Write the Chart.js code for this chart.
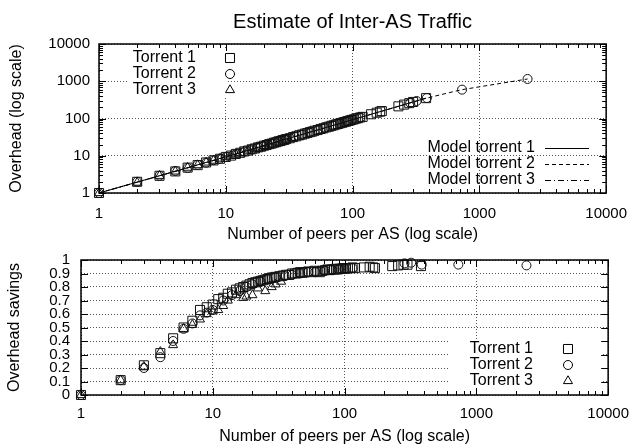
<!DOCTYPE html>
<html>
<head>
<meta charset="utf-8">
<script src="https://cdn.jsdelivr.net/npm/chart.js@4"></script>
<style>
body{margin:0;background:#fff;width:639px;height:445px;position:relative;overflow:hidden}
#c1{position:absolute;left:0;top:0}
#c2{position:absolute;left:0;top:240px}
</style>
</head>
<body>
<canvas id="c1" width="639" height="250"></canvas>
<canvas id="c2" width="639" height="205"></canvas>
<script>
// peers per AS, overhead and savings per torrent
var x1=[1,2,3,4,5,6,7,8,9,10,11,12,13,14,15,16,17,18,19,20,21,22,23,24,25,26,27,28,29,30,32,34,36,38,40,42,44,46,48,50,53,56,59,62,65,68,71,74,77,80,83,86,89,92,95,98,102,106,110,115,120,140,155,165,170,230,255,280,300,380]
var overhead1=[1,2,2.9,3.8,4.8,5.6,6.6,7.5,8.3,9.3,10.1,11.2,12,13.1,13.8,14.9,15.7,16.8,17.5,18.6,19.4,20.5,21.2,22.4,23.1,24.3,24.9,26.2,26.8,28,29.6,31.7,33.3,35.5,37,39.2,40.7,43,44.4,46.8,49,52.3,54.6,57.9,60.1,63.5,65.7,69.1,71.2,74.8,76.8,80.3,82.4,85.9,87.8,91.5,94.4,99,101.8,107,110.5,130,143,153,158,212,236,258,278,352]
var savings1=[0,0.11,0.22,0.31,0.42,0.5,0.55,0.63,0.65,0.67,0.71,0.72,0.75,0.76,0.78,0.79,0.8,0.81,0.82,0.83,0.835,0.84,0.845,0.85,0.855,0.86,0.865,0.87,0.87,0.875,0.88,0.885,0.89,0.89,0.9,0.9,0.905,0.91,0.905,0.91,0.915,0.91,0.92,0.915,0.91,0.92,0.925,0.93,0.925,0.93,0.93,0.935,0.93,0.935,0.935,0.94,0.935,0.94,0.94,0.945,0.94,0.945,0.95,0.945,0.94,0.955,0.96,0.965,0.965,0.955]

var x2=[1,2,3,4,5,6,7,8,9,10,12,14,16,18,20,23,26,30,35,40,46,53,60,70,80,90,100,115,285,320,385,730,2400]
var overhead2=[1,2,2.9,3.9,4.7,5.7,6.5,7.6,8.3,9.2,11,12.9,14.7,16.6,18.4,21.2,24,27.6,32.2,36.8,42.3,48.8,55.2,64.4,73.6,82.8,92,106,262,295,355,595,1150]
var savings2=[0,0.11,0.2,0.28,0.4,0.49,0.53,0.59,0.61,0.63,0.7,0.74,0.77,0.8,0.82,0.84,0.86,0.87,0.88,0.89,0.9,0.91,0.91,0.92,0.925,0.93,0.935,0.94,0.975,0.98,0.966,0.966,0.96]

var x3=[1,2,3,4,5,6,7,8,9,10,11,12,13,15,17,18,20,22,25,28,30,33]
var overhead3=[1,1.9,2.9,3.8,4.8,5.6,6.6,7.4,8.4,9.2,10.1,11,12,13.8,15.6,16.6,18.4,20.2,23,25.8,27.6,30.4]
var savings3=[0,0.11,0.21,0.32,0.37,0.49,0.52,0.56,0.6,0.62,0.63,0.66,0.7,0.74,0.72,0.73,0.74,0.79,0.77,0.8,0.82,0.84]

var modelX1=[1,10,100,380]
var modelY1=[1,9.4,93,352]
var modelX2=[1,10,100,380,720,2400]
var modelY2=[1,9.3,92,350,590,1150]
var modelX3=[1,10,33]
var modelY3=[1,9.2,30.4]

var decades=[1,10,100,1000,10000]
var savingTicks=[0,0.1,0.2,0.3,0.4,0.5,0.6,0.7,0.8,0.9,1]

Chart.defaults.font.family="'Liberation Sans', Arial, sans-serif"
Chart.defaults.color='#000'

function pts(xs,ys){
    return xs.map(function(x,i){return {x:x,y:ys[i]}})
}

function drawSymbol(ctx,style,r,x,y){
    ctx.beginPath()
    if(style==='rect'){
        var s=r*Math.SQRT1_2
        ctx.rect(x-s,y-s,2*s,2*s)
    }else if(style==='circle'){
        ctx.arc(x,y,r,0,Math.PI*2)
    }else if(style==='triangle'){
        var a=0
        ctx.moveTo(x+Math.sin(a)*r,y-Math.cos(a)*r)
        a+=Math.PI*2/3
        ctx.lineTo(x+Math.sin(a)*r,y-Math.cos(a)*r)
        a+=Math.PI*2/3
        ctx.lineTo(x+Math.sin(a)*r,y-Math.cos(a)*r)
        ctx.closePath()
    }
    ctx.stroke()
}

// key layout per canvas (gnuplot style keys)
var keyLayout={
    c1:[
        {sets:[0,1,2],textRight:196,sample:230,y0:58,dy:16,box:[128,48,226,98]},
        {sets:[3,4,5],textRight:535,sample:567,y0:148,dy:16}
    ],
    c2:[
        {sets:[0,1,2],textRight:533,sample:568,y0:109,dy:16,box:[450,100,603,154]}
    ]
}

var keys={
    id:'keys',
    beforeDatasetsDraw:function(chart){
        var ctx=chart.ctx
        keyLayout[chart.canvas.id].forEach(function(g){
            if(!g.box) return
            ctx.save()
            ctx.fillStyle='#fff'
            ctx.fillRect(g.box[0],g.box[1],g.box[2]-g.box[0],g.box[3]-g.box[1])
            ctx.restore()
        })
    },
    afterDatasetsDraw:function(chart){
        var ctx=chart.ctx
        ctx.save()
        ctx.font="16px 'Liberation Sans', Arial, sans-serif"
        ctx.textAlign='right'
        ctx.textBaseline='middle'
        keyLayout[chart.canvas.id].forEach(function(g){
            g.sets.forEach(function(di,i){
                var ds=chart.data.datasets[di]
                var y=g.y0+i*g.dy
                ctx.fillStyle='#000'
                ctx.fillText(ds.label,g.textRight,y)
                ctx.strokeStyle='#000'
                ctx.lineWidth=1
                if(ds.showLine){
                    ctx.setLineDash(ds.borderDash||[])
                    ctx.beginPath()
                    ctx.moveTo(g.sample-22,y+0.5)
                    ctx.lineTo(g.sample+22,y+0.5)
                    ctx.stroke()
                    ctx.setLineDash([])
                }else{
                    drawSymbol(ctx,ds.pointStyle,ds.pointRadius,g.sample,y)
                }
            })
        })
        ctx.restore()
    }
}

// frame and inward ticks like gnuplot
var frame={
    id:'frame',
    afterDraw:function(chart){
        var ctx=chart.ctx,a=chart.chartArea,xs=chart.scales.x,ys=chart.scales.y
        ctx.save()
        ctx.strokeStyle='#000'
        ctx.lineWidth=1
        ctx.beginPath()
        function tickX(v,len){
            var p=Math.round(xs.getPixelForValue(v))+0.5
            ctx.moveTo(p,a.bottom);ctx.lineTo(p,a.bottom-len)
            ctx.moveTo(p,a.top);ctx.lineTo(p,a.top+len)
        }
        function tickY(v,len){
            var p=Math.round(ys.getPixelForValue(v))+0.5
            ctx.moveTo(a.left,p);ctx.lineTo(a.left+len,p)
            ctx.moveTo(a.right,p);ctx.lineTo(a.right-len,p)
        }
        decades.forEach(function(d){
            tickX(d,7)
            if(d<10000) for(var k=2;k<10;k++) tickX(k*d,4)
        })
        if(ys.type==='logarithmic'){
            decades.forEach(function(d){
                tickY(d,7)
                if(d<10000) for(var k=2;k<10;k++) tickY(k*d,4)
            })
        }else{
            savingTicks.forEach(function(v){tickY(v,7)})
        }
        ctx.stroke()
        ctx.lineWidth=1.5
        ctx.strokeRect(a.left,a.top,a.right-a.left,a.bottom-a.top)
        ctx.restore()
    }
}

function pointSet(label,xs,ys,style,r){
    return {label:label,data:pts(xs,ys),pointStyle:style,pointRadius:r,
        borderColor:'#111',backgroundColor:'rgba(0,0,0,0)',pointBorderWidth:1,
        showLine:false,clip:false}
}
function modelSet(label,xs,ys,dash){
    return {label:label,data:pts(xs,ys),showLine:true,pointRadius:0,
        borderColor:'#000',borderWidth:1,borderDash:dash,clip:false}
}

function xScale(h,pad,titlePad,titleLh){
    return {
        type:'logarithmic',min:1,max:10000,
        afterBuildTicks:function(s){s.ticks=decades.map(function(v){return {value:v}})},
        afterFit:function(s){s.height=h},
        ticks:{callback:function(v){return String(v)},font:{size:15},padding:pad,maxRotation:0,autoSkip:false},
        grid:{color:'#555',drawTicks:false,lineWidth:1},
        border:{display:false,dash:[1,2]},
        title:{display:true,text:'Number of peers per AS (log scale)',font:{size:16,lineHeight:titleLh},padding:{top:0,bottom:titlePad}}
    }
}

new Chart(document.getElementById('c1'),{
    type:'scatter',
    data:{datasets:[
        pointSet('Torrent 1',x1,overhead1,'rect',6.4),
        pointSet('Torrent 2',x2,overhead2,'circle',4.5),
        pointSet('Torrent 3',x3,overhead3,'triangle',5.2),
        modelSet('Model torrent 1',modelX1,modelY1,[]),
        modelSet('Model torrent 2',modelX2,modelY2,[4,3]),
        modelSet('Model torrent 3',modelX3,modelY3,[6,3,1,3])
    ]},
    options:{
        responsive:false,animation:false,devicePixelRatio:1,
        layout:{padding:{left:0,right:29,top:0,bottom:0}},
        plugins:{
            legend:{display:false},tooltip:{enabled:false},
            title:{display:true,text:'Estimate of Inter-AS Traffic',fullSize:false,color:'#000',
                font:{size:20,weight:'normal',lineHeight:1.2},padding:{top:10,bottom:10}}
        },
        scales:{
            x:xScale(57,12,5.4,1.2),
            y:{
                type:'logarithmic',min:1,max:10000,
                afterBuildTicks:function(s){s.ticks=decades.map(function(v){return {value:v}})},
                afterFit:function(s){s.width=99},
                ticks:{callback:function(v){return String(v)},font:{size:15},padding:9,autoSkip:false},
                grid:{color:'#555',drawTicks:false,lineWidth:1},
                border:{display:false,dash:[1,2]},
                title:{display:true,text:'Overhead (log scale)',font:{size:16},padding:{top:7.4,bottom:0}}
            }
        }
    },
    plugins:[keys,frame]
})

new Chart(document.getElementById('c2'),{
    type:'scatter',
    data:{datasets:[
        pointSet('Torrent 1',x1,savings1,'rect',6.4),
        pointSet('Torrent 2',x2,savings2,'circle',4.5),
        pointSet('Torrent 3',x3,savings3,'triangle',5.2)
    ]},
    options:{
        responsive:false,animation:false,devicePixelRatio:1,
        layout:{padding:{left:0,right:29,top:10,bottom:0}},
        plugins:{legend:{display:false},tooltip:{enabled:false}},
        scales:{
            x:xScale(50,10,0,1),
            y:{
                type:'linear',min:0,max:1,
                afterBuildTicks:function(s){s.ticks=savingTicks.map(function(v){return {value:v}})},
                afterFit:function(s){s.width=81},
                ticks:{callback:function(v){return String(v)},font:{size:15},padding:11,autoSkip:false},
                grid:{color:'#555',drawTicks:false,lineWidth:1},
                border:{display:false,dash:[1,2]},
                title:{display:true,text:'Overhead savings',font:{size:16},padding:{top:5.4,bottom:0}}
            }
        }
    },
    plugins:[keys,frame]
})
</script>
</body>
</html>
